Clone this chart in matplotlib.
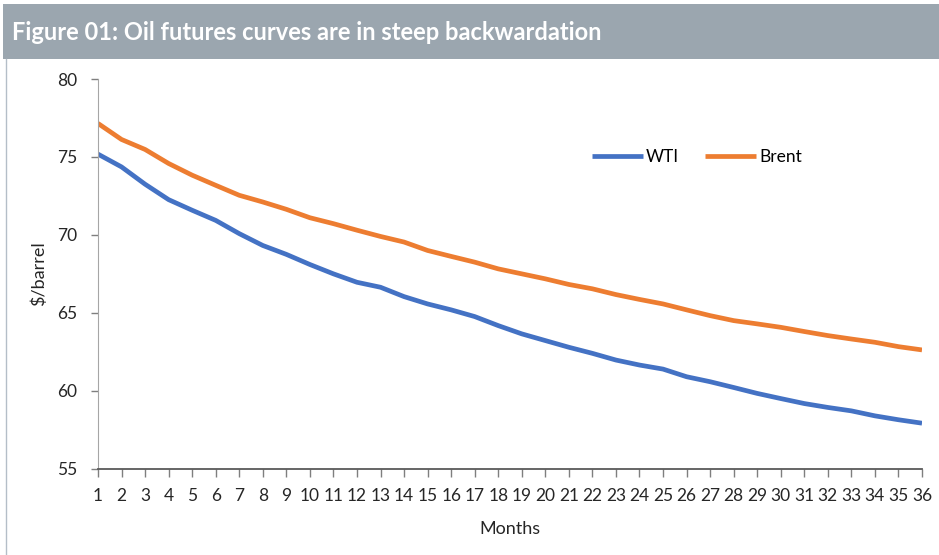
import numpy as np
import matplotlib.pyplot as plt
from matplotlib.patches import Rectangle
from matplotlib.lines import Line2D

# oil futures curves, $/barrel by contract month
months = list(range(1, 37))
wti = [75.18, 74.36, 73.25, 72.26, 71.58, 70.93, 70.08, 69.32, 68.75, 68.10,
       67.50, 66.96, 66.64, 66.04, 65.57, 65.19, 64.76, 64.18, 63.65, 63.22,
       62.79, 62.40, 61.97, 61.65, 61.39, 60.90, 60.58, 60.21, 59.83, 59.50,
       59.18, 58.93, 58.71, 58.39, 58.14, 57.92]
brent = [77.15, 76.12, 75.48, 74.58, 73.83, 73.18, 72.54, 72.11, 71.64, 71.10,
         70.72, 70.30, 69.90, 69.54, 69.00, 68.62, 68.25, 67.82, 67.50, 67.18,
         66.82, 66.54, 66.17, 65.86, 65.57, 65.19, 64.82, 64.50, 64.29, 64.07,
         63.80, 63.54, 63.32, 63.11, 62.83, 62.62]
yticks = [55, 60, 65, 70, 75, 80]

plt.rcParams['font.family'] = ['Lato', 'DejaVu Sans']
txt = '#262626'

fig = plt.figure(figsize=(9.39, 5.55), dpi=100)
fig.patch.set_facecolor('white')

# header bar + frame
fig.patches.append(Rectangle((0.003, 1 - 59/555), 0.997, 55/555, transform=fig.transFigure,
                             facecolor='#9BA6AF', edgecolor='none', zorder=0))
fig.lines.append(Line2D([5.5/939, 5.5/939], [0, 1 - 59/555], transform=fig.transFigure,
                        color='#B4BEC8', lw=1))
fig.text(12/939, 1 - 33/555, 'Figure 01: Oil futures curves are in steep backwardation',
         color='white', fontsize=17, fontweight='bold', va='center', ha='left')

ax = fig.add_axes([98/939, 1 - 468.7/555, 824/939, 389.7/555])
ax.plot(months, wti, color='#4472C4', lw=3.4, label='WTI', solid_capstyle='butt')
ax.plot(months, brent, color='#ED7D31', lw=3.4, label='Brent', solid_capstyle='butt')

ax.set_xlim(1, 36)
ax.set_ylim(55, 80)
ax.set_xticks(months)
ax.set_yticks(yticks)
ax.tick_params(axis='both', colors='#7F7F7F', labelcolor=txt, labelsize=12.5, length=5, width=1)
ax.tick_params(axis='x', pad=8, length=6)
ax.tick_params(axis='y', pad=10)
for s in ['top', 'right']:
    ax.spines[s].set_visible(False)
ax.spines['left'].set_color('#A6A6A6')
ax.spines['bottom'].set_color('#595959')
ax.spines['bottom'].set_linewidth(1.3)

ax.set_ylabel('$/barrel', fontsize=13, color=txt, labelpad=7)
ax.set_xlabel('Months', fontsize=13, color=txt, labelpad=12)

ax.legend(loc='center', bbox_to_anchor=(0.727, 0.80), ncol=2, frameon=False,
          fontsize=12.5, handlelength=2.9, handletextpad=0.2, columnspacing=1.5)

fig.savefig('out.png', dpi=100)
